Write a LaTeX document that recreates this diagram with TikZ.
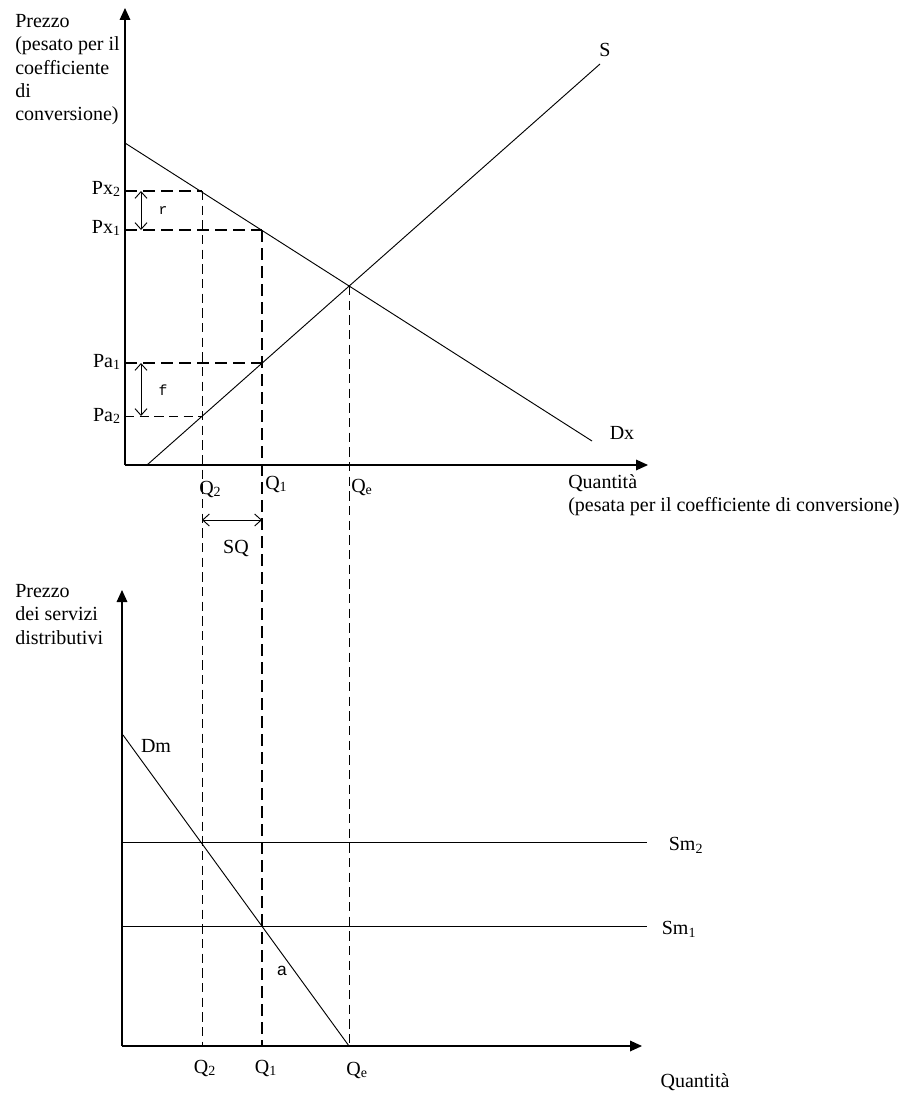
\documentclass[tikz,border=0pt]{standalone}
\usepackage{fontspec}
\setmainfont{Liberation Serif}
\newfontfamily\gapfont{Liberation Mono}
\newfontfamily\sansfont{Liberation Sans}
\usetikzlibrary{arrows.meta, positioning}

\begin{document}
\begin{tikzpicture}[
        x=0.75pt, y=-0.75pt,
        every node/.style={font=\fontsize{15}{17.5}\selectfont, inner sep=0pt},
        axis/.style={-{Triangle[length=9pt,width=8pt]}, line width=0.9pt},
        curve/.style={line width=0.7pt},
        guide/.style={dash pattern=on 7pt off 4pt, line width=0.6pt},
        bold guide/.style={dash pattern=on 9pt off 4.5pt, line width=1.9pt},
        gap/.style={{Straight Barb[length=5pt,width=9pt]}-{Straight Barb[length=5pt,width=9pt]}, line width=0.7pt}
    ]
    \useasboundingbox (0,0) rectangle (912,1095);

    % upper diagram: market of the good
    \coordinate (O) at (125,465);
    \coordinate (Ytop) at (125,8);
    \coordinate (Xend) at (648,465);
    \coordinate (D0) at (125,143);
    \coordinate (D1) at (592,441);
    \coordinate (S0) at (147,465);
    \coordinate (S1) at (600,64);
    \coordinate (E) at (349,286);
    \coordinate (Px2) at (125,191);
    \coordinate (X2) at (202,191);
    \coordinate (Px1) at (125,230);
    \coordinate (X1) at (262,230);
    \coordinate (Pa1) at (125,363);
    \coordinate (A1) at (262,363);
    \coordinate (Pa2) at (125,416);
    \coordinate (A2) at (202,416);

    \draw[axis] (O) -- (Ytop);
    \draw[axis] (O) -- (Xend);
    \draw[curve] (D0) -- (D1);
    \draw[curve] (S0) -- (S1);

    \draw[bold guide] (Px2) -- (X2);
    \draw[bold guide] (Px1) -- (X1);
    \draw[bold guide] (Pa1) -- (A1);
    \draw[guide] (Pa2) -- (A2);

    \node[align=left, anchor=north west] (ylab) at (15,14)
        {Prezzo\\(pesato per il\\coefficiente\\di\\conversione)};
    \node[align=left, anchor=north west] (xlab) at (568,474)
        {Quantità\\(pesata per il coefficiente di conversione)};
    \node[anchor=east] (lPx2) at (121,189) {Px\textsubscript{2}};
    \node[anchor=east] (lPx1) at (121,228) {Px\textsubscript{1}};
    \node[anchor=east] (lPa1) at (121,362) {Pa\textsubscript{1}};
    \node[anchor=east] (lPa2) at (121,416) {Pa\textsubscript{2}};
    \node (lS) at (605,50) {S};
    \node (lDx) at (622,433) {Dx};
    \node[anchor=west] (lQ2) at (199,489) {Q\textsubscript{2}};
    \node[anchor=west] (lQ1) at (265,484) {Q\textsubscript{1}};
    \node[anchor=west] (lQe) at (351,487) {Q\textsubscript{e}};

    \coordinate (r0) at (141,191);
    \coordinate (r1) at (141,230);
    \coordinate (f0) at (141,363);
    \coordinate (f1) at (141,416);
    \draw[gap] (r0) -- (r1);
    \draw[gap] (f0) -- (f1);
    \node[font=\gapfont\fontsize{11}{12}\selectfont] (lr) at (163,211) {r};
    \node[font=\gapfont\fontsize{11}{12}\selectfont] (lf) at (163,390) {f};

    \coordinate (sq0) at (202,520);
    \coordinate (sq1) at (262,520);
    \draw[gap] (sq0) -- (sq1);
    \node (lSQ) at (236,548) {SQ};

    % lower diagram: distribution services
    \coordinate (O2) at (122,1046);
    \coordinate (Ytop2) at (122,590);
    \coordinate (Xend2) at (642,1046);
    \coordinate (Dm0) at (123,735);
    \coordinate (Dm1) at (349,1046);
    \coordinate (Sm2a) at (122,842);
    \coordinate (Sm2b) at (647,842);
    \coordinate (Sm1a) at (122,926);
    \coordinate (Sm1b) at (647,926);
    \coordinate (B2) at (202,1046);
    \coordinate (B1) at (262,1046);
    \coordinate (Be) at (349,1046);

    \draw[axis] (O2) -- (Ytop2);
    \draw[axis] (O2) -- (Xend2);
    \draw[curve] (Dm0) -- (Dm1);
    \draw[curve] (Sm2a) -- (Sm2b);
    \draw[curve] (Sm1a) -- (Sm1b);

    % links between the two diagrams
    \draw[guide] (X2) -- (B2);
    \draw[bold guide] (X1) -- (B1);
    \draw[guide] (E) -- (Be);

    \node[align=left, anchor=north west] (ylab2) at (15,584)
        {Prezzo\\dei servizi\\distributivi};
    \node (lDm) at (156,746) {Dm};
    \node (lSm2) at (686,845) {Sm\textsubscript{2}};
    \node (lSm1) at (679,929) {Sm\textsubscript{1}};
    \node[font=\sansfont\fontsize{13}{14}\selectfont] (la) at (282,971) {a};
    \node (bQ2) at (205,1068) {Q\textsubscript{2}};
    \node (bQ1) at (266,1068) {Q\textsubscript{1}};
    \node (bQe) at (357,1070) {Q\textsubscript{e}};
    \node (xlab2) at (695,1082) {Quantità};
\end{tikzpicture}
\end{document}
